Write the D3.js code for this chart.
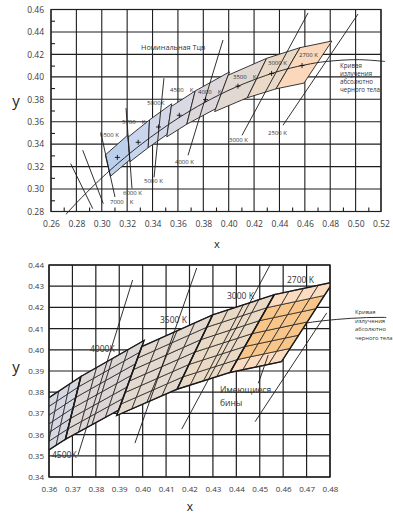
<!DOCTYPE html>
<html><head><meta charset="utf-8">
<script src="https://cdn.jsdelivr.net/npm/d3@7"></script>
<style>
body{margin:0;background:#fff}
svg{display:block}
text{font-family:"Open Sans","DejaVu Sans",sans-serif}
</style>
</head><body>
<svg id="c" width="393" height="515"></svg>
<script>
// ANSI C78.377 nominal CCT quadrangles (CIE 1931 x, y)
const cctNames   = ["6500","5700","5000","4500","4000","3500","3000","2700"];
const cctCenters = [[0.3123,0.3282],[0.3287,0.3417],[0.3447,0.3553],[0.3611,0.3658],
                    [0.3818,0.3797],[0.4073,0.3917],[0.4338,0.4030],[0.4578,0.4101]];
// corners: upper-left, upper-right, lower-right, lower-left
const cctCorners = [
  [[0.3028,0.3304],[0.3205,0.3481],[0.3221,0.3261],[0.3068,0.3113]],
  [[0.3207,0.3462],[0.3376,0.3616],[0.3366,0.3369],[0.3222,0.3243]],
  [[0.3376,0.3616],[0.3551,0.3760],[0.3515,0.3487],[0.3366,0.3369]],
  [[0.3548,0.3736],[0.3736,0.3874],[0.3670,0.3578],[0.3512,0.3465]],
  [[0.3736,0.3874],[0.4006,0.4044],[0.3898,0.3716],[0.3670,0.3578]],
  [[0.3996,0.4015],[0.4299,0.4165],[0.4147,0.3814],[0.3889,0.3690]],
  [[0.4299,0.4165],[0.4562,0.4260],[0.4373,0.3893],[0.4147,0.3814]],
  [[0.4562,0.4260],[0.4813,0.4319],[0.4593,0.3944],[0.4373,0.3893]]
];
const cctFillsTop = ["#bccfeb","#c8d5ec","#d2d8e8","#d9d9e3","#ddd6db","#e2d8d2","#e9d9c6","#fbd8bb"];

// Planckian (black-body) locus
const planckLocus = [[0.2718,0.2775],[0.2807,0.2884],[0.2952,0.3048],[0.3064,0.3166],
  [0.3135,0.3236],[0.3221,0.3318],[0.3324,0.3410],[0.3451,0.3516],[0.3608,0.3636],
  [0.3805,0.3768],[0.4053,0.3907],[0.4369,0.4041],[0.4599,0.4106],[0.4770,0.4137],
  [0.5018,0.4153],[0.5232,0.4137]];

// isotemperature lines, overview panel
const isoTop = [
  {t:"",   a:[0.2755,0.3227], b:[0.2929,0.2825]},
  {t:"",   a:[0.2850,0.3346], b:[0.3012,0.2870]},
  {t:"7000", a:[0.2992,0.3505], b:[0.3104,0.2929]},
  {t:"6000", a:[0.3191,0.3721], b:[0.3238,0.3006]},
  {t:"5000", a:[0.3490,0.3988], b:[0.3412,0.3104]},
  {t:"4000", a:[0.3955,0.4328], b:[0.3680,0.3301]},
  {t:"3000", a:[0.4625,0.4569], b:[0.4105,0.3479]},
  {t:"2500", a:[0.5019,0.4560], b:[0.4428,0.3569]}
];

// isotemperature lines and leader, detail panel
const isoBottom = [
  {a:[0.3957,0.4329], b:[0.3724,0.3504]},
  {a:[0.4231,0.4386], b:[0.3967,0.3560]},
  {a:[0.4544,0.4400], b:[0.4167,0.3626]},
  {a:[0.4786,0.4174], b:[0.4480,0.3661]},
  {a:[0.4536,0.3975], b:[0.4494,0.3842]}
];

// detail panel: quads shown and their bin subdivision
const binQuads   = ["4500","4000","3500","3000","2700"];
const binFills   = ["#d5d8e1","#ddd6d5","#e3d9cf","#eadac5","#fcdcc0"];
const binCols = 4, binRows = 6;
const availableFill = "#f8c68a";   // bins in production (2700 K, inner rows)

const topXTicks = d3.range(0.26, 0.5201, 0.02);
const topYTicks = d3.range(0.28, 0.4601, 0.02);
const botXTicks = d3.range(0.36, 0.4801, 0.01);
const botYTicks = d3.range(0.34, 0.4401, 0.01);

const svg = d3.select("#c");
const fmt = d3.format(".2f");

// ---------- overview panel ----------
const tx = d3.scaleLinear().domain([0.26,0.52]).range([51,381]);
const ty = d3.scaleLinear().domain([0.28,0.46]).range([211.5,9.5]);
const gT = svg.append("g");

gT.append("g").selectAll("line").data(topXTicks).join("line")
  .attr("x1", d=>tx(d)).attr("x2", d=>tx(d)).attr("y1", ty(0.28)).attr("y2", ty(0.46))
  .attr("stroke","#1e1e1e").attr("stroke-width",1.1);
gT.append("g").selectAll("line").data(topYTicks).join("line")
  .attr("y1", d=>ty(d)).attr("y2", d=>ty(d)).attr("x1", tx(0.26)).attr("x2", tx(0.52))
  .attr("stroke","#1e1e1e").attr("stroke-width",1.1);

// minor ticks inside the frame
gT.append("g").attr("transform",`translate(0,${ty(0.28)})`)
  .call(d3.axisBottom(tx).tickValues(d3.range(0.27,0.52,0.02)).tickSize(-4).tickFormat(""))
  .call(g=>g.select(".domain").remove())
  .call(g=>g.selectAll("line").attr("stroke","#1e1e1e").attr("stroke-width",1.1));
gT.append("g").attr("transform",`translate(${tx(0.26)},0)`)
  .call(d3.axisLeft(ty).tickValues(d3.range(0.29,0.46,0.02)).tickSize(-4).tickFormat(""))
  .call(g=>g.select(".domain").remove())
  .call(g=>g.selectAll("line").attr("stroke","#1e1e1e").attr("stroke-width",1.1));

// tick labels
gT.append("g").attr("transform",`translate(0,${ty(0.28)})`)
  .call(d3.axisBottom(tx).tickValues(topXTicks).tickSize(0).tickPadding(9).tickFormat(fmt))
  .call(g=>g.select(".domain").remove())
  .call(g=>g.selectAll("text").attr("font-size",8.5).attr("fill","#3a3a3a").attr("font-family","Open Sans"));
gT.append("g").attr("transform",`translate(${tx(0.26)},0)`)
  .call(d3.axisLeft(ty).tickValues(topYTicks).tickSize(0).tickPadding(7).tickFormat(fmt))
  .call(g=>g.select(".domain").remove())
  .call(g=>g.selectAll("text").attr("font-size",8.5).attr("fill","#3a3a3a").attr("font-family","Open Sans"));

gT.append("text").attr("x",16).attr("y",106).attr("text-anchor","middle")
  .attr("font-size",15).attr("fill","#222").text("y");
gT.append("text").attr("x",217).attr("y",247.5).attr("text-anchor","middle")
  .attr("font-size",11).attr("fill","#222").text("x");

// quadrangles
const toPts = (pts, sx, sy) => pts.map(p=>[sx(p[0]), sy(p[1])].join(",")).join(" ");
gT.append("g").selectAll("polygon").data(cctCorners).join("polygon")
  .attr("points", d=>toPts(d, tx, ty))
  .attr("fill", (d,i)=>cctFillsTop[i]).attr("stroke","#222").attr("stroke-width",0.9);

// black-body curve
const lineT = d3.line().x(d=>tx(d[0])).y(d=>ty(d[1])).curve(d3.curveCatmullRom);
gT.append("path").attr("d", lineT(planckLocus)).attr("fill","none")
  .attr("stroke","#1a1a1a").attr("stroke-width",0.9);

// isotemperature lines
gT.append("g").selectAll("line").data(isoTop).join("line")
  .attr("x1", d=>tx(d.a[0])).attr("y1", d=>ty(d.a[1]))
  .attr("x2", d=>tx(d.b[0])).attr("y2", d=>ty(d.b[1]))
  .attr("stroke","#1a1a1a").attr("stroke-width",0.9);

// centre markers
gT.append("g").selectAll("path").data(cctCenters).join("path")
  .attr("d", d=>{const x=tx(d[0]), y=ty(d[1]); return `M${x-2.5},${y}H${x+2.5}M${x},${y-2.5}V${y+2.5}`;})
  .attr("stroke","#111").attr("stroke-width",0.9);

// annotations
const topLabels = [
  {s:"6500 K", x:100, y:137}, {s:"5700\u2002\u2002K", x:122, y:124},
  {s:"5000K", x:147, y:105}, {s:"4500\u2002\u2002K", x:170, y:91.5},
  {s:"4000\u2002\u2002K", x:198, y:94}, {s:"3500\u2002\u2002K", x:233, y:79},
  {s:"3000 K", x:268, y:65}, {s:"2700 K", x:299, y:57},
  {s:"7000\u2002\u2002K", x:110, y:204}, {s:"6000 K", x:123, y:195},
  {s:"5000 K", x:144, y:183}, {s:"4000 K", x:175, y:164},
  {s:"3000 K", x:229, y:141.5}, {s:"2500 K", x:268, y:135}
];
gT.append("g").selectAll("text").data(topLabels).join("text")
  .attr("x", d=>d.x).attr("y", d=>d.y).attr("font-size",6).attr("fill","#333")
  .text(d=>d.s);
gT.append("text").attr("x",141).attr("y",49.5).attr("font-size",7.3).attr("fill","#333")
  .text("Номинальная Тцв");
gT.append("g").selectAll("text")
  .data(["Кривая","излучения","абсолютно","черного тела"]).join("text")
  .attr("x",340).attr("y",(d,i)=>67.5+i*8).attr("font-size",6.2).attr("fill","#333").text(d=>d);

// frame
gT.append("rect").attr("x",tx(0.26)).attr("y",ty(0.46))
  .attr("width",tx(0.52)-tx(0.26)).attr("height",ty(0.28)-ty(0.46))
  .attr("fill","none").attr("stroke","#1e1e1e").attr("stroke-width",1.2);

// ---------- detail panel ----------
const bx = d3.scaleLinear().domain([0.36,0.48]).range([49,330]);
const by = d3.scaleLinear().domain([0.34,0.44]).range([477,265]);
const gB = svg.append("g");

gB.append("g").selectAll("line").data(botXTicks).join("line")
  .attr("x1", d=>bx(d)).attr("x2", d=>bx(d)).attr("y1", by(0.34)).attr("y2", by(0.44))
  .attr("stroke","#1e1e1e").attr("stroke-width",1.2);
gB.append("g").selectAll("line").data(botYTicks).join("line")
  .attr("y1", d=>by(d)).attr("y2", d=>by(d)).attr("x1", bx(0.36)).attr("x2", bx(0.48))
  .attr("stroke","#1e1e1e").attr("stroke-width",1.2);

gB.append("g").attr("transform",`translate(0,${by(0.34)})`)
  .call(d3.axisBottom(bx).tickValues(botXTicks).tickSize(0).tickPadding(9).tickFormat(fmt))
  .call(g=>g.select(".domain").remove())
  .call(g=>g.selectAll("text").attr("font-size",8).attr("fill","#3a3a3a").attr("font-family","Open Sans"));
gB.append("g").attr("transform",`translate(${bx(0.36)},0)`)
  .call(d3.axisLeft(by).tickValues(botYTicks).tickSize(0).tickPadding(5).tickFormat(fmt))
  .call(g=>g.select(".domain").remove())
  .call(g=>g.selectAll("text").attr("font-size",8).attr("fill","#3a3a3a").attr("font-family","Open Sans"));

gB.append("text").attr("x",16).attr("y",372).attr("text-anchor","middle")
  .attr("font-size",15).attr("fill","#222").text("y");
gB.append("text").attr("x",190).attr("y",510.5).attr("text-anchor","middle")
  .attr("font-size",12).attr("fill","#222").text("x");

svg.append("clipPath").attr("id","plotB").append("rect")
  .attr("x",bx(0.36)).attr("y",by(0.44)).attr("width",bx(0.48)-bx(0.36)).attr("height",by(0.34)-by(0.44));
svg.append("clipPath").attr("id","curveB").append("rect")
  .attr("x",bx(0.36)).attr("y",by(0.44)).attr("width",bx(0.504)-bx(0.36)).attr("height",by(0.34)-by(0.44));

// black-body curve (runs under the bins, visible beyond them)
const lineB = d3.line().x(d=>bx(d[0])).y(d=>by(d[1])).curve(d3.curveCatmullRom);
gB.append("path").attr("d", lineB(planckLocus.filter(p=>p[0]>=0.36)))
  .attr("clip-path","url(#curveB)")
  .attr("fill","none").attr("stroke","#1a1a1a").attr("stroke-width",0.9);

// bins: each nominal quad split into binCols x binRows cells
const lerp = (p,q,t)=>[p[0]+(q[0]-p[0])*t, p[1]+(q[1]-p[1])*t];
function binPoint(c,u,v){ // u: along CCT (left->right), v: bottom->top
  const bot = lerp(c[3], c[2], u), top = lerp(c[0], c[1], u);
  return lerp(bot, top, v);
}
const cells = [];
binQuads.forEach((name,qi)=>{
  const c = cctCorners[cctNames.indexOf(name)];
  for (let i=0;i<binCols;i++) for (let j=0;j<binRows;j++){
    const pts = [binPoint(c,i/binCols,(j+1)/binRows), binPoint(c,(i+1)/binCols,(j+1)/binRows),
                 binPoint(c,(i+1)/binCols,j/binRows), binPoint(c,i/binCols,j/binRows)];
    const avail = name==="2700" && j>0 && j<binRows-1;
    cells.push({pts, fill: avail ? availableFill : binFills[qi]});
  }
});
const gBins = gB.append("g").attr("clip-path","url(#plotB)");
gBins.append("g").selectAll("polygon").data(cells).join("polygon")
  .attr("points", d=>toPts(d.pts, bx, by)).attr("fill", d=>d.fill)
  .attr("stroke","#222").attr("stroke-width",0.75);
gBins.append("g").selectAll("polygon").data(binQuads).join("polygon")
  .attr("points", d=>toPts(cctCorners[cctNames.indexOf(d)], bx, by))
  .attr("fill","none").attr("stroke","#1a1a1a").attr("stroke-width",1.4);

gB.append("g").selectAll("line").data(isoBottom).join("line")
  .attr("x1", d=>bx(d.a[0])).attr("y1", d=>by(d.a[1]))
  .attr("x2", d=>bx(d.b[0])).attr("y2", d=>by(d.b[1]))
  .attr("stroke","#1a1a1a").attr("stroke-width",0.9);

const botLabels = [
  {s:"2700 K", x:287, y:282.5}, {s:"3000 K", x:227, y:299},
  {s:"3500 K", x:160, y:323}, {s:"4000K", x:90, y:352}, {s:"4500K", x:52, y:458}
];
gB.append("g").selectAll("text").data(botLabels).join("text")
  .attr("x", d=>d.x).attr("y", d=>d.y).attr("font-size",8.5).attr("fill","#333").text(d=>d.s);
gB.append("g").selectAll("text").data(["Имеющиеся","бины"]).join("text")
  .attr("x",220).attr("y",(d,i)=>393+i*13).attr("font-size",8.5).attr("fill","#333").text(d=>d);
gB.append("g").selectAll("text")
  .data(["Кривая","излучения","абсолютно","черного тела"]).join("text")
  .attr("x",355).attr("y",(d,i)=>314+i*8.7).attr("font-size",5.8).attr("fill","#333").text(d=>d);

gB.append("rect").attr("x",bx(0.36)).attr("y",by(0.44))
  .attr("width",bx(0.48)-bx(0.36)).attr("height",by(0.34)-by(0.44))
  .attr("fill","none").attr("stroke","#1e1e1e").attr("stroke-width",1.4);
</script>
</body></html>
